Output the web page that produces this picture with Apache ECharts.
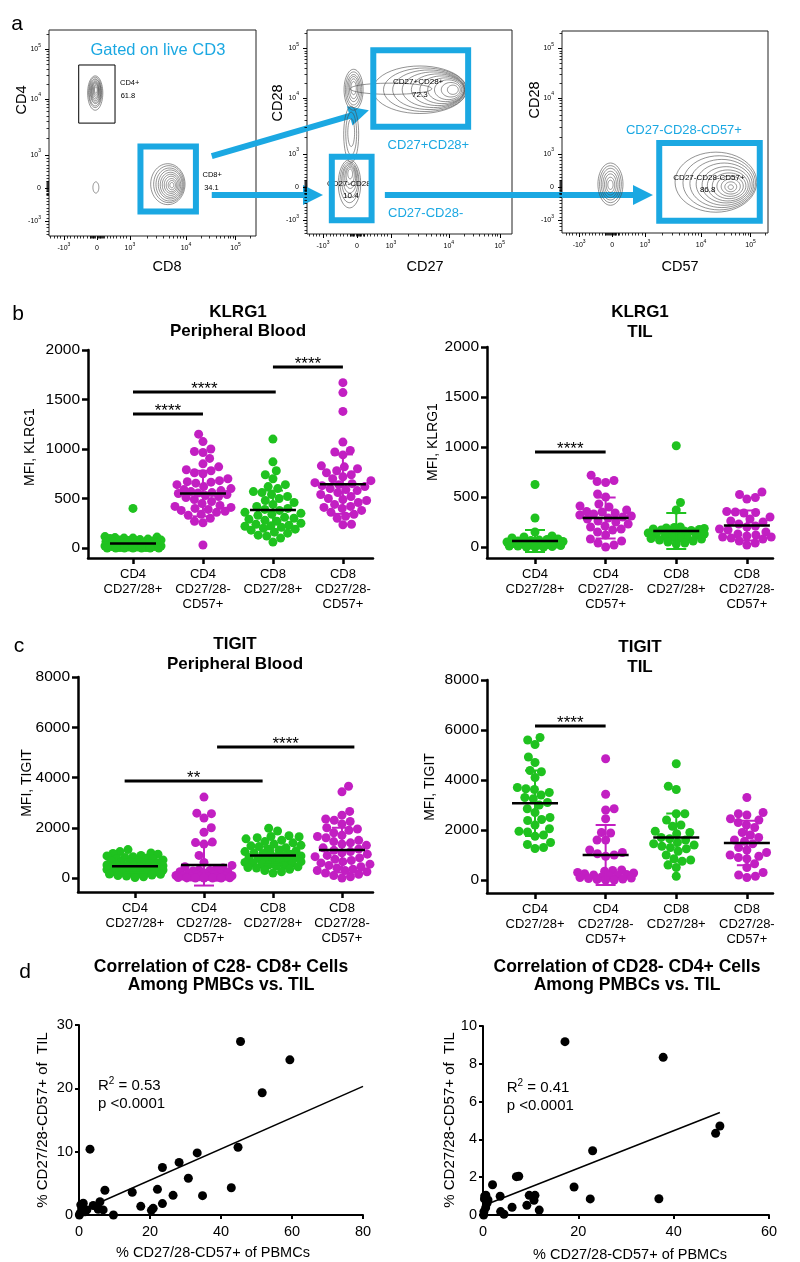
<!DOCTYPE html>
<html><head><meta charset="utf-8">
<script src="https://cdn.jsdelivr.net/npm/echarts@6/dist/echarts.min.js"></script>
<style>html,body{margin:0;padding:0;background:#fff}#c{width:800px;height:1262px}</style>
</head><body><div id="c"></div>
<script>
// ---------------- DATA ----------------
// Flow plots (display units of a biexponential axis)
const FLOW_TICK_POS = [-1, 0, 1, 2.7, 4.2];
const FLOW_TICK_LABELS = ['-10{s|3}', '0', '10{s|3}', '10{s|4}', '10{s|5}'];
const FLOW_X_NAMES = ['CD8', 'CD27', 'CD57'];
const FLOW_Y_NAMES = ['CD4', 'CD28', 'CD28'];
// contour rings: [cx, cy, rx, ry]
const rings1 = [
  [-0.05,2.88,0.23,0.52],[-0.05,2.9,0.2,0.46],[-0.05,2.9,0.18,0.41],[-0.04,2.92,0.16,0.36],[-0.04,2.92,0.14,0.32],
  [-0.04,2.93,0.12,0.28],[-0.04,2.94,0.1,0.24],[-0.03,2.95,0.08,0.2],[-0.03,2.96,0.06,0.15],[-0.03,2.97,0.04,0.1],
  [-0.03,0.02,0.09,0.17],
  [2.15,0.12,0.52,0.62],[2.18,0.12,0.46,0.56],[2.2,0.11,0.41,0.5],[2.22,0.11,0.36,0.44],[2.23,0.1,0.31,0.38],
  [2.24,0.1,0.26,0.32],[2.25,0.1,0.21,0.26],[2.26,0.09,0.16,0.2],[2.27,0.09,0.11,0.14],[2.27,0.09,0.06,0.08]
];
const rings2 = [
  [-0.1,2.95,0.28,0.62],[-0.1,2.95,0.24,0.54],[-0.1,2.95,0.2,0.46],[-0.1,2.97,0.16,0.38],[-0.1,2.98,0.12,0.3],[-0.1,3.0,0.08,0.2],
  [-0.17,1.6,0.22,0.85],[-0.17,1.62,0.16,0.65],[-0.17,1.65,0.1,0.42],
  [-0.22,0.1,0.33,0.73],[-0.22,0.15,0.28,0.62],[-0.21,0.2,0.24,0.52],[-0.21,0.25,0.2,0.43],[-0.2,0.3,0.16,0.34],[-0.2,0.35,0.12,0.25],[-0.2,0.4,0.07,0.15],
  [1.0,2.98,1.2,0.17],
  [1.85,2.95,1.38,0.72],[2.0,2.95,1.22,0.66],[2.12,2.95,1.07,0.6],[2.25,2.95,0.92,0.54],[2.38,2.95,0.78,0.48],
  [2.5,2.95,0.65,0.42],[2.6,2.95,0.52,0.36],[2.68,2.95,0.4,0.3],[2.76,2.95,0.28,0.22],[2.82,2.95,0.16,0.14]
];
const rings3 = [
  [-0.05,0.09,0.38,0.64],[-0.05,0.09,0.33,0.56],[-0.05,0.09,0.28,0.48],[-0.05,0.08,0.23,0.4],[-0.05,0.08,0.18,0.32],
  [-0.05,0.07,0.13,0.23],[-0.05,0.07,0.08,0.14],
  [3.15,0.15,1.24,0.91],[3.25,0.13,1.1,0.82],[3.33,0.11,0.97,0.73],[3.4,0.09,0.85,0.64],[3.46,0.07,0.73,0.55],
  [3.51,0.05,0.62,0.47],[3.55,0.04,0.51,0.39],[3.58,0.03,0.4,0.31],[3.6,0.02,0.29,0.23],[3.6,0.01,0.18,0.15],[3.6,0,0.08,0.07]
];
// gates: [x1, y1, x2, y2, colour key]
const gates1 = [[-0.55,1.97,0.55,3.73,'k'],[1.32,-0.71,3.0,1.26,'b']];
const gates2 = [[0.48,1.83,3.27,4.15,'b'],[-0.74,-1.0,0.43,0.92,'b']];
const gates3 = [[1.43,-1.02,4.48,1.34,'b']];
// texts: [x, y, text, colour key, font size]
const texts1 = [[1.85,4.18,'Gated on live CD3','b',16.5],[0.7,3.18,'CD4+','k',7.5,'left'],[0.72,2.78,'61.8','k',7.5,'left'],
  [3.2,0.39,'CD8+','k',7.5,'left'],[3.25,0.02,'34.1','k',7.5,'left']];
const texts2 = [[1.8,3.18,'CD27+CD28+','k',8],[1.85,2.79,'72.3','k',8],[-0.2,0.09,'CD27-CD28-','k',8],[-0.18,-0.27,'10.4','k',8],
  [2.1,1.25,'CD27+CD28+','b',13],[2.02,-0.8,'CD27-CD28-','b',13]];
const texts3 = [[2.18,1.73,'CD27-CD28-CD57+','b',13],[2.94,0.27,'CD27-CD28-CD57+','k',8],[2.9,-0.09,'86.8','k',8]];
// arrows: [fromGrid, fx, fy, toGrid, tx, ty]
const arrows = [[0,3.48,0.97,1,0.35,2.33],[0,3.48,-0.21,1,-1.0,-0.24],[1,0.82,-0.24,2,1.24,-0.24]];

// Dot plots
const CAT_LABELS = ['CD4\nCD27/28+', 'CD4\nCD27/28-\nCD57+', 'CD8\nCD27/28+', 'CD8\nCD27/28-\nCD57+'];
const KLRG1_TICKS = [0, 500, 1000, 1500, 2000];
const TIGIT_TICKS = [0, 2000, 4000, 6000, 8000];

const klrg1PB_cd4pos = [400,115,110,105,100,100,95,90,85,80,80,75,70,65,60,60,55,50,45,45,40,35,30,30,25,20,20,15,15,10,10,5,5,0,0,0,0,0,0,0];
const klrg1PB_cd4neg = [1150,1075,1000,975,965,905,850,820,790,780,760,750,700,680,670,665,655,640,620,600,590,580,570,560,555,550,540,530,520,510,490,470,450,430,420,410,400,390,380,370,360,340,330,300,270,255,30];
const klrg1PB_cd8pos = [1100,870,780,740,700,640,620,600,570,560,540,520,500,480,460,440,420,400,390,380,360,350,340,330,310,300,290,280,270,250,240,230,225,220,210,200,190,180,160,150,130,120,100,60];
const klrg1PB_cd8neg = [1670,1570,1380,1070,985,970,940,830,820,800,780,760,740,720,700,680,660,650,640,630,620,600,590,580,560,540,520,500,490,480,460,440,420,410,400,380,360,340,320,300,240,235];
const klrg1PB_means = [45, 550, 385, 645];
const klrg1PB_sds = [60, 230, 195, 300];
const klrg1PB_sig = [[0,1,1354,'****'],[0,2.04,1576,'****'],[2,3,1828,'****']];

const klrg1TIL_cd4pos = [625,290,150,110,100,90,80,75,70,65,60,55,50,50,45,40,40,35,30,30,25,20,20,15,10,10,5,0,0,0];
const klrg1TIL_cd4neg = [717,665,655,645,530,500,430,410,400,370,355,350,340,330,320,310,300,290,280,260,250,230,210,200,180,170,150,120,80,60,40,20,0];
const klrg1TIL_cd8pos = [1013,445,370,200,195,190,185,180,175,170,165,160,155,150,140,130,125,120,110,100,95,90,85,80,70,60,50,40,30];
const klrg1TIL_cd8neg = [550,525,495,480,355,350,345,340,300,280,260,250,230,210,200,180,170,150,130,120,110,100,100,90,80,60,40,20];
const klrg1TIL_means = [60, 290, 160, 215];
const klrg1TIL_sds = [110, 205, 180, 150];
const klrg1TIL_sig = [[0,1,950,'****']];

const tigitPB_cd4pos = [1130,1050,1000,980,950,900,880,850,820,800,780,750,720,700,680,650,630,600,580,560,540,520,500,490,480,460,450,440,420,400,390,380,360,350,340,320,300,290,280,260,250,230,210,200,180,160,150,120,100,80,50,20];
const tigitPB_cd4neg = [3220,2580,2560,2390,2000,1820,1430,1410,1350,900,620,500,450,400,350,320,300,280,250,230,200,180,160,140,120,100,90,80,70,60,50,40,30,20,10,5,0,0,0,0];
const tigitPB_cd8pos = [1980,1870,1680,1650,1640,1600,1560,1500,1450,1400,1350,1300,1280,1250,1200,1150,1100,1080,1050,1000,980,950,920,900,880,850,820,800,780,750,720,700,680,650,620,600,580,550,520,500,480,450,420,400,350,300,250,200];
const tigitPB_cd8neg = [3650,3430,2650,2500,2350,2300,2250,2150,2000,1950,1900,1800,1700,1650,1600,1500,1450,1400,1350,1300,1200,1150,1100,1050,1000,950,900,850,800,750,700,650,600,550,500,450,400,350,300,300,250,200,150,100,50,0];
const tigitPB_means = [470, 520, 900, 1110];
const tigitPB_sds = [250, 820, 350, 890];
const tigitPB_sig = [[-0.15,1.85,3860,'**'],[1.19,3.18,5213,'****']];

const tigitTIL_cd4pos = [5700,5600,5420,4920,4700,4380,4330,4100,3700,3650,3620,3500,3400,3300,3250,3100,3000,2850,2700,2500,2420,2380,2200,2050,1950,1920,1800,1750,1500,1420,1300,1260];
const tigitTIL_cd4neg = [4850,3430,2850,2800,2450,1900,1880,1600,1600,1200,1100,1050,1000,950,400,380,350,300,280,250,220,200,180,150,120,100,80,60,40,20,0,0];
const tigitTIL_cd8pos = [4650,3750,3620,2650,2650,2400,2200,2150,1950,1900,1850,1700,1650,1600,1500,1450,1400,1350,1300,1250,1150,1000,850,800,750,600,500,150];
const tigitTIL_cd8neg = [3300,2700,2650,2600,2450,2400,2300,2200,2100,1900,1800,1700,1600,1550,1450,1300,1200,1100,1000,950,900,850,650,500,300,200,150,100];
const tigitTIL_means = [3070, 1000, 1700, 1480];
const tigitTIL_sds = [1310, 1200, 960, 890];
const tigitTIL_sig = [[0,1,6160,'****']];

// Correlations
const corrCD8_x = [45.5,59.4,51.6,44.8,33.3,28.2,23.5,30.8,42.9,22.1,34.8,26.5,15.0,7.3,3.1,17.4,23.5,20.9,20.4,9.7,5.9,6.8,5.4,4.0,1.2,1.0,1.7,0.3,0.75,0.1,2.2,0.5];
const corrCD8_y = [27.4,24.5,19.3,10.7,9.8,8.3,7.5,5.8,4.3,4.05,3.05,3.1,3.6,3.9,10.4,1.37,1.8,1.05,0.74,0,2.1,0.8,0.9,1.5,1.85,1.3,0.5,0.26,0.95,0,0.8,1.6];
const fitCD8 = [[0, 0.55], [80, 20.3]];
const statsCD8 = ['R{s|2} = 0.53', 'p <0.0001'];
const corrCD4_x = [17.2,37.8,49.7,48.8,23.0,7.0,7.5,2.0,19.1,22.5,36.9,9.7,10.9,10.7,11.8,9.2,6.1,3.6,3.7,4.4,0.35,1.05,0.84,0.56,0.2,0.14,0.3,0.6];
const corrCD4_y = [9.17,8.34,4.71,4.32,3.40,2.03,2.05,1.6,1.48,0.85,0.86,1.04,1.04,0.78,0.26,0.51,0.41,0.99,0.18,0.04,1.0,0.8,0.62,0.39,0.18,0,0.85,1.05];
const fitCD4 = [[0.14, 0.5], [49.7, 5.42]];
const statsCD4 = ['R{s|2} = 0.41', 'p <0.0001'];

// ---------------- LAYOUT / STYLE ----------------
const FONT = '"Liberation Sans", Arial, Helvetica, sans-serif';
const GREEN = '#1FC21F', MAGENTA = '#C21FC2', BLUE = '#1BA8E2';
const GRIDS = [
  {left:49, top:30, width:207, height:206},
  {left:307, top:30, width:205, height:204},
  {left:562, top:31, width:206, height:202},
  {left:88, top:350, width:285, height:208},
  {left:487, top:347, width:286, height:211},
  {left:78, top:677, width:295, height:215},
  {left:487, top:680, width:286, height:213},
  {left:79, top:1025, width:284, height:190},
  {left:483, top:1026, width:286, height:189}
];
const FLOW_XR = [[-1.45,4.82],[-1.47,4.56],[-1.52,4.73]];
const FLOW_YR = [[-1.45,4.79],[-1.42,4.76],[-1.39,4.73]];
const DOT_XR = [[-0.643,3.43],[-0.68,3.37],[-0.826,3.45],[-0.68,3.37]];
const DOT_YR = [[-101,2000],[-110,2000],[-557,8000],[-520,8000]];

const FLOW_MINOR = (function(){ const a=[]; for(let v=-14; v<=9; v++) a.push(v/10);
  for(let v=-6; v<=6; v++) a.push(v*0.035);
  for(let k=2;k<=9;k++){ a.push(1+1.7*Math.log10(k)); a.push(2.7+1.5*Math.log10(k)); }
  a.push(4.2+1.5*Math.log10(2)); return a; })();

const grid = GRIDS.map((g, i) => Object.assign({show: i < 3, borderColor: '#222', borderWidth: 1, backgroundColor: 'transparent'}, g));
const xAxis = [], yAxis = [], X = [], Y = [];
function flowLabel(v){ const i = FLOW_TICK_POS.findIndex(p => Math.abs(p - v) < 1e-6); return i < 0 ? '' : FLOW_TICK_LABELS[i]; }
const flowRich = {s: {fontSize: 5, verticalAlign: 'top', lineHeight: 6, fontFamily: FONT, color: '#000'}};
for (let g = 0; g < 3; g++) {
  ['x','y'].forEach(dim => {
    const r = dim === 'x' ? FLOW_XR[g] : FLOW_YR[g];
    const main = {type:'value', gridIndex:g, min:r[0], max:r[1], position: dim==='x'?'bottom':'left',
      axisLine:{show:false, onZero:false}, splitLine:{show:false},
      axisTick:{show:true, customValues:FLOW_TICK_POS, length:4, lineStyle:{color:'#000', width:1}},
      axisLabel:{customValues:FLOW_TICK_POS, formatter:flowLabel, fontSize:7, lineHeight:13, fontFamily:FONT, color:'#000', margin: dim==='x'?6:8, rich:flowRich}};
    const minor = {type:'value', gridIndex:g, min:r[0], max:r[1], position: dim==='x'?'bottom':'left',
      axisLine:{show:false, onZero:false}, splitLine:{show:false}, axisLabel:{show:false},
      axisTick:{show:true, customValues:FLOW_MINOR, length:2.5, lineStyle:{color:'#000', width:0.8}}};
    if (dim === 'x') { X.push(xAxis.length); xAxis.push(main, minor); } else { Y.push(yAxis.length); yAxis.push(main, minor); }
  });
}
for (let p = 0; p < 4; p++) {
  const g = 3 + p;
  X.push(xAxis.length);
  xAxis.push({type:'value', gridIndex:g, min:DOT_XR[p][0], max:DOT_XR[p][1], splitLine:{show:false},
    axisLine:{onZero:false, lineStyle:{color:'#000', width:2.5}},
    axisTick:{customValues:[0,1,2,3], length:6, lineStyle:{color:'#000', width:2.5}},
    axisLabel:{customValues:[0,1,2,3], formatter: v => CAT_LABELS[Math.round(v)], fontSize:13, lineHeight:15, fontFamily:FONT, color:'#000', margin:9}});
  const ticks = p < 2 ? KLRG1_TICKS : TIGIT_TICKS;
  Y.push(yAxis.length);
  yAxis.push({type:'value', gridIndex:g, min:DOT_YR[p][0], max:DOT_YR[p][1], splitLine:{show:false},
    axisLine:{onZero:false, lineStyle:{color:'#000', width:2.5}},
    axisTick:{customValues:ticks, length:6, lineStyle:{color:'#000', width:2.5}},
    axisLabel:{customValues:ticks, formatter: v => String(v), fontSize:15.5, fontFamily:FONT, color:'#000', margin:8}});
}
[[0,80,20,0,30,10],[0,60,20,0,10,2]].forEach((r, k) => {
  const g = 7 + k;
  X.push(xAxis.length);
  xAxis.push({type:'value', gridIndex:g, min:r[0], max:r[1], interval:r[2], splitLine:{show:false},
    axisLine:{onZero:false, lineStyle:{color:'#000', width:2}}, axisTick:{length:4, lineStyle:{color:'#000', width:2}},
    axisLabel:{formatter: v => String(v), fontSize:14.5, fontFamily:FONT, color:'#000', margin:9}});
  Y.push(yAxis.length);
  yAxis.push({type:'value', gridIndex:g, min:r[3], max:r[4], interval:r[5], splitLine:{show:false},
    axisLine:{onZero:false, lineStyle:{color:'#000', width:2}}, axisTick:{length:4, lineStyle:{color:'#000', width:2}},
    axisLabel:{formatter: v => String(v), fontSize:14.5, fontFamily:FONT, color:'#000', margin:6}});
});

const series = [];
// flow contours, texts, gates
function ringSeries(g, rings){
  return {type:'custom', xAxisIndex:X[g], yAxisIndex:Y[g], silent:true, z:2, data: rings.map(r => [r[0], r[1]]),
    renderItem:(p, api) => { const r = rings[p.dataIndex]; const c = api.coord([r[0], r[1]]); const s = api.size([r[2], r[3]]);
      const pts = []; for (let k = 0; k < 48; k++) { const t = k / 48 * 2 * Math.PI; pts.push([c[0] + s[0]*Math.cos(t), c[1] + s[1]*Math.sin(t)]); }
      return {type:'polygon', shape:{points:pts}, style:{fill:'none', stroke:'#4a4a4a', lineWidth:0.6}}; }};
}
function textSeries(g, texts, z){
  return {type:'custom', xAxisIndex:X[g], yAxisIndex:Y[g], silent:true, z:z, data: texts.map(t => [t[0], t[1]]),
    renderItem:(p, api) => { const t = texts[p.dataIndex]; const c = api.coord([t[0], t[1]]);
      return {type:'text', x:c[0], y:c[1], style:{text:t[2], fill: t[3]==='b'?BLUE:'#000', fontSize:t[4], fontFamily:FONT, align:t[5]||'center', verticalAlign:'middle'}}; }};
}
function gateSeries(g, gates){
  return {type:'custom', xAxisIndex:X[g], yAxisIndex:Y[g], silent:true, z:5, data: gates.map(q => [q[0], q[1]]),
    renderItem:(p, api) => { const q = gates[p.dataIndex]; const a = api.coord([q[0], q[3]]); const b = api.coord([q[2], q[1]]);
      return {type:'rect', shape:{x:a[0], y:a[1], width:b[0]-a[0], height:b[1]-a[1]}, style:{fill:'none', stroke: q[4]==='b'?BLUE:'#000', lineWidth: q[4]==='b'?6:1}}; }};
}
[[rings1, texts1, gates1],[rings2, texts2, gates2],[rings3, texts3, gates3]].forEach((d, g) => {
  series.push(ringSeries(g, d[0]));
  series.push(textSeries(g, d[1].filter(t => t[3]==='k'), 3));
  series.push(gateSeries(g, d[2]));
  series.push(textSeries(g, d[1].filter(t => t[3]==='b'), 6));
});

// dot plots
function swarm(vals, pxY, d, maxW){
  const order = vals.map((_, i) => i).sort((a, b) => vals[a] - vals[b]);
  const placed = [], out = []; let flip = 1;
  order.forEach(i => {
    const y = vals[i] * pxY;
    const near = placed.filter(p => Math.abs(p.y - y) < d);
    const cands = [0];
    near.forEach(p => { const dx = Math.sqrt(d*d - (p.y - y)*(p.y - y)); cands.push(p.x + dx, p.x - dx); });
    cands.sort((a, b) => (Math.abs(a) - Math.abs(b)) || (a - b) * flip);
    let best = null;
    for (const c of cands) { if (Math.abs(c) > maxW + 0.01) continue;
      if (near.every(p => (p.x - c)*(p.x - c) + (p.y - y)*(p.y - y) >= d*d - 0.5)) { best = c; break; } }
    if (best === null) { let bm = -1; for (let c = -maxW; c <= maxW; c += 1) {
      const m = Math.min.apply(null, near.map(p => (p.x - c)*(p.x - c) + (p.y - y)*(p.y - y))); if (m > bm) { bm = m; best = c; } } }
    flip = -flip; placed.push({x: best, y}); out[i] = best;
  });
  return out;
}
const DOT_PANELS = [
  {groups:[klrg1PB_cd4pos, klrg1PB_cd4neg, klrg1PB_cd8pos, klrg1PB_cd8neg], means:klrg1PB_means, sds:klrg1PB_sds, sig:klrg1PB_sig},
  {groups:[klrg1TIL_cd4pos, klrg1TIL_cd4neg, klrg1TIL_cd8pos, klrg1TIL_cd8neg], means:klrg1TIL_means, sds:klrg1TIL_sds, sig:klrg1TIL_sig},
  {groups:[tigitPB_cd4pos, tigitPB_cd4neg, tigitPB_cd8pos, tigitPB_cd8neg], means:tigitPB_means, sds:tigitPB_sds, sig:tigitPB_sig},
  {groups:[tigitTIL_cd4pos, tigitTIL_cd4neg, tigitTIL_cd8pos, tigitTIL_cd8neg], means:tigitTIL_means, sds:tigitTIL_sds, sig:tigitTIL_sig}
];
DOT_PANELS.forEach((P, p) => {
  const g = 3 + p, G = GRIDS[g];
  const pxY = G.height / (DOT_YR[p][1] - DOT_YR[p][0]);
  const pxC = G.width / (DOT_XR[p][1] - DOT_XR[p][0]);
  P.groups.forEach((vals, k) => {
    const off = swarm(vals, pxY, 8.6, 28);
    series.push({type:'scatter', xAxisIndex:X[g], yAxisIndex:Y[g], symbol:'circle', symbolSize:9, silent:true, z:2,
      itemStyle:{color: k % 2 === 0 ? GREEN : MAGENTA, opacity:1},
      data: vals.map((v, i) => [k + off[i] / pxC, v])});
  });
  series.push({type:'custom', xAxisIndex:X[g], yAxisIndex:Y[g], silent:true, z:4, data: P.means.map((m, k) => [k, m]),
    renderItem:(pp, api) => { const k = pp.dataIndex, m = P.means[k], s = P.sds[k];
      const col = k % 2 === 0 ? GREEN : MAGENTA;
      const c = api.coord([k, m]), t = api.coord([k, m + s]), b = api.coord([k, m - s]);
      return {type:'group', children:[
        {type:'line', shape:{x1:c[0], y1:t[1], x2:c[0], y2:b[1]}, style:{stroke:col, lineWidth:2}},
        {type:'line', shape:{x1:c[0]-10, y1:t[1], x2:c[0]+10, y2:t[1]}, style:{stroke:col, lineWidth:2}},
        {type:'line', shape:{x1:c[0]-10, y1:b[1], x2:c[0]+10, y2:b[1]}, style:{stroke:col, lineWidth:2}},
        {type:'line', shape:{x1:c[0]-23, y1:c[1], x2:c[0]+23, y2:c[1]}, style:{stroke:'#000', lineWidth:2.5}}
      ]}; }});
  series.push({type:'custom', xAxisIndex:X[g], yAxisIndex:Y[g], silent:true, z:4, data: P.sig.map(s => [(s[0]+s[1])/2, s[2]]),
    renderItem:(pp, api) => { const s = P.sig[pp.dataIndex]; const a = api.coord([s[0], s[2]]), b = api.coord([s[1], s[2]]);
      return {type:'group', children:[
        {type:'line', shape:{x1:a[0], y1:a[1], x2:b[0], y2:b[1]}, style:{stroke:'#000', lineWidth:3}},
        {type:'text', x:(a[0]+b[0])/2, y:a[1]-3, style:{text:s[3], fill:'#000', fontSize:17, fontFamily:FONT, align:'center', verticalAlign:'middle'}}
      ]}; }});
});

// correlations
[[corrCD8_x, corrCD8_y, fitCD8, statsCD8, [5.35, 20.4], [5.35, 17.6]],
 [corrCD4_x, corrCD4_y, fitCD4, statsCD4, [4.97, 6.72], [4.97, 5.77]]].forEach((d, k) => {
  const g = 7 + k;
  series.push({type:'scatter', xAxisIndex:X[g], yAxisIndex:Y[g], symbol:'circle', symbolSize:9, silent:true, z:3,
    itemStyle:{color:'#000', opacity:1}, data: d[0].map((x, i) => [x, d[1][i]])});
  series.push({type:'line', xAxisIndex:X[g], yAxisIndex:Y[g], silent:true, showSymbol:false, symbol:'none', z:2,
    lineStyle:{color:'#000', width:1.5}, data: d[2]});
  const st = [[d[4][0], d[4][1], d[3][0]], [d[5][0], d[5][1], d[3][1]]];
  series.push({type:'custom', xAxisIndex:X[g], yAxisIndex:Y[g], silent:true, z:4, data: st.map(s => [s[0], s[1]]),
    renderItem:(pp, api) => { const s = st[pp.dataIndex]; const c = api.coord([s[0], s[1]]);
      return {type:'text', x:c[0], y:c[1], style:{text:s[2], fill:'#000', fontSize:15, lineHeight:20, fontFamily:FONT, align:'left', verticalAlign:'middle',
        rich:{s:{fontSize:10, lineHeight:10, verticalAlign:'top', fontFamily:FONT}}}}; }});
});

// static texts (titles, panel letters, axis names)
function T(x, y, text, size, opts){ return Object.assign({type:'text', x:x, y:y, silent:true,
  style:Object.assign({text:text, fill:'#000', fontSize:size, fontFamily:FONT, align:'center', verticalAlign:'middle'}, opts || {})}); }
function TR(x, y, text, size){ const t = T(x, y, text, size); t.rotation = Math.PI / 2; return t; }
const graphics = [
  T(17, 24, 'a', 21), T(18, 314, 'b', 21), T(19, 646, 'c', 21), T(25, 972, 'd', 21),
  T(238, 321.5, 'KLRG1\nPeripheral Blood', 17, {fontWeight:'bold', lineHeight:19}),
  T(640, 322, 'KLRG1\nTIL', 17, {fontWeight:'bold', lineHeight:20}),
  T(235, 654, 'TIGIT\nPeripheral Blood', 17, {fontWeight:'bold', lineHeight:20}),
  T(640, 657, 'TIGIT\nTIL', 17, {fontWeight:'bold', lineHeight:20}),
  T(221, 976, 'Correlation of C28- CD8+ Cells\nAmong PMBCs vs. TIL', 17.5, {fontWeight:'bold', lineHeight:18}),
  T(627, 976, 'Correlation of CD28- CD4+ Cells\nAmong PMBCs vs. TIL', 17.5, {fontWeight:'bold', lineHeight:18}),
  TR(30, 447, 'MFI, KLRG1', 14), TR(433, 442, 'MFI, KLRG1', 14),
  TR(27, 783, 'MFI, TIGIT', 14), TR(430, 787, 'MFI, TIGIT', 14),
  TR(43, 1120, '% CD27/28-CD57+ of  TIL', 15), TR(450, 1120, '% CD27/28-CD57+ of  TIL', 15),
  T(213, 1253, '% CD27/28-CD57+ of PBMCs', 14.5), T(630, 1255, '% CD27/28-CD57+ of PBMCs', 14.5),
  TR(22, 100, FLOW_Y_NAMES[0], 14.5), T(167, 267, FLOW_X_NAMES[0], 14.5),
  TR(278, 103, FLOW_Y_NAMES[1], 14.5), T(425, 267, FLOW_X_NAMES[1], 14.5),
  TR(535, 100, FLOW_Y_NAMES[2], 14.5), T(680, 267, FLOW_X_NAMES[2], 14.5)
];

const chart = echarts.init(document.getElementById('c'), null, {renderer:'canvas', width:800, height:1262});
chart.setOption({animation:false, backgroundColor:'#fff', textStyle:{fontFamily:FONT}, grid:grid, xAxis:xAxis, yAxis:yAxis, series:series, graphic:graphics});

// arrows between flow plots (positions converted through the plots' axes)
const arrowEls = arrows.map(a => {
  const f = chart.convertToPixel({xAxisIndex:X[a[0]], yAxisIndex:Y[a[0]]}, [a[1], a[2]]);
  const t = chart.convertToPixel({xAxisIndex:X[a[3]], yAxisIndex:Y[a[3]]}, [a[4], a[5]]);
  const dx = t[0] - f[0], dy = t[1] - f[1], L = Math.sqrt(dx*dx + dy*dy), ux = dx / L, uy = dy / L;
  const bx = t[0] - ux * 20, by = t[1] - uy * 20, px = -uy, py = ux;
  return {type:'group', silent:true, z:10, children:[
    {type:'line', shape:{x1:f[0], y1:f[1], x2:bx + ux, y2:by + uy}, style:{stroke:BLUE, lineWidth:6}},
    {type:'polygon', shape:{points:[[t[0], t[1]], [bx + px*10, by + py*10], [bx - px*10, by - py*10]]}, style:{fill:BLUE}}
  ]};
});
chart.setOption({graphic: graphics.concat(arrowEls)});
</script></body></html>
